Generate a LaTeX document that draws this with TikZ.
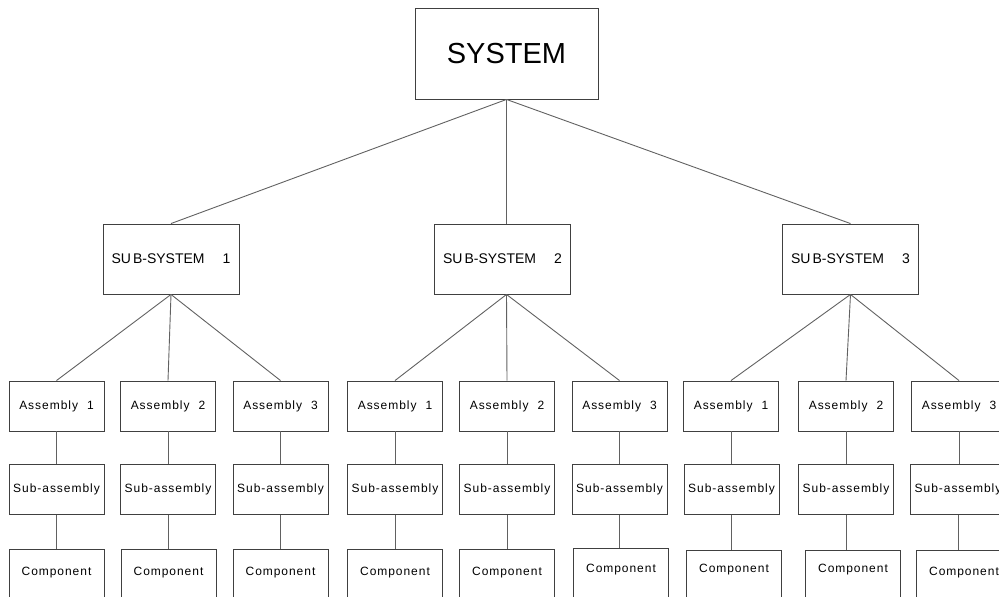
\documentclass[tikz,border=0pt]{standalone}
\usepackage{fontspec}
\setmainfont{Liberation Sans}
\newfontfamily\spacedfont[LetterSpace=8]{Liberation Sans}
\definecolor{edge}{gray}{0.25}
\definecolor{wire}{gray}{0.38}
\begin{document}
\begin{tikzpicture}[x=1pt,y=-1pt,
  box/.style={draw=edge, line width=0.9pt, inner sep=0pt, text=black},
  topbox/.style={box, minimum width=183pt, minimum height=91pt,
    font=\fontsize{29}{34}\selectfont},
  subsys/.style={box, minimum width=136pt, minimum height=70pt,
    font=\fontsize{14}{16}\selectfont},
  part/.style={box, minimum width=95pt, minimum height=50pt,
    font=\spacedfont\fontsize{12}{14}\selectfont},
  link/.style={draw=wire, line width=0.9pt}]
\useasboundingbox (0,0) rectangle (999,597);
\clip (0,0) rectangle (999,597);

% top level
\node[topbox] (sys) at (506.5,53.5) {SYSTEM};

% sub-systems
\node[subsys] (ss1) at (171,259)   {SU\kern2pt B-SYSTEM\hspace{18pt}1};
\node[subsys] (ss2) at (502.5,259) {SU\kern2pt B-SYSTEM\hspace{18pt}2};
\node[subsys] (ss3) at (850.5,259) {SU\kern2pt B-SYSTEM\hspace{18pt}3};

% joints where the connectors meet each sub-system box
\coordinate (in1)  at (ss1.north);
\coordinate (out1) at (ss1.south);
\coordinate (in2)  at (sys.south |- ss2.north);
\coordinate (out2) at (sys.south |- ss2.south);
\coordinate (in3)  at (ss3.north);
\coordinate (out3) at (ss3.south);

\foreach \s in {1,2,3}
  \draw[link] (sys.south) -- (in\s);

% assemblies, sub-assemblies and components of each sub-system
% g / i / assembly x / sub-assembly x / component x / component y / text raise
\foreach \g/\i/\ax/\sx/\cx/\cy/\r in {
    1/1/56.5/56.5/56.5/574/1,  1/2/168/168/168.5/574/1,  1/3/280.5/280.5/280.5/574/1,
    2/1/395/395/395/574/1,     2/2/507/507/507/574/1,    2/3/619.5/619.5/621/573/3,
    3/1/731/731.5/734/575/5,   3/2/846/846/853/575/5,    3/3/959/958/964/575/2}{
  \node[part] (a\g\i) at (\ax,406)   {Assembly\hspace{9pt}\i};
  \node[part] (b\g\i) at (\sx,489.5) {Sub-assembly};
  \node[part] (c\g\i) at (\cx,\cy)   {\raisebox{\r pt}[\height][\depth]{Component}};
  \draw[link] (out\g) -- (a\g\i.north);
  \draw[link] (a\g\i.south) -- (a\g\i.south |- b\g\i.north);
  \draw[link] (b\g\i.south) -- (b\g\i.south |- c\g\i.north);
}
\end{tikzpicture}
\end{document}
